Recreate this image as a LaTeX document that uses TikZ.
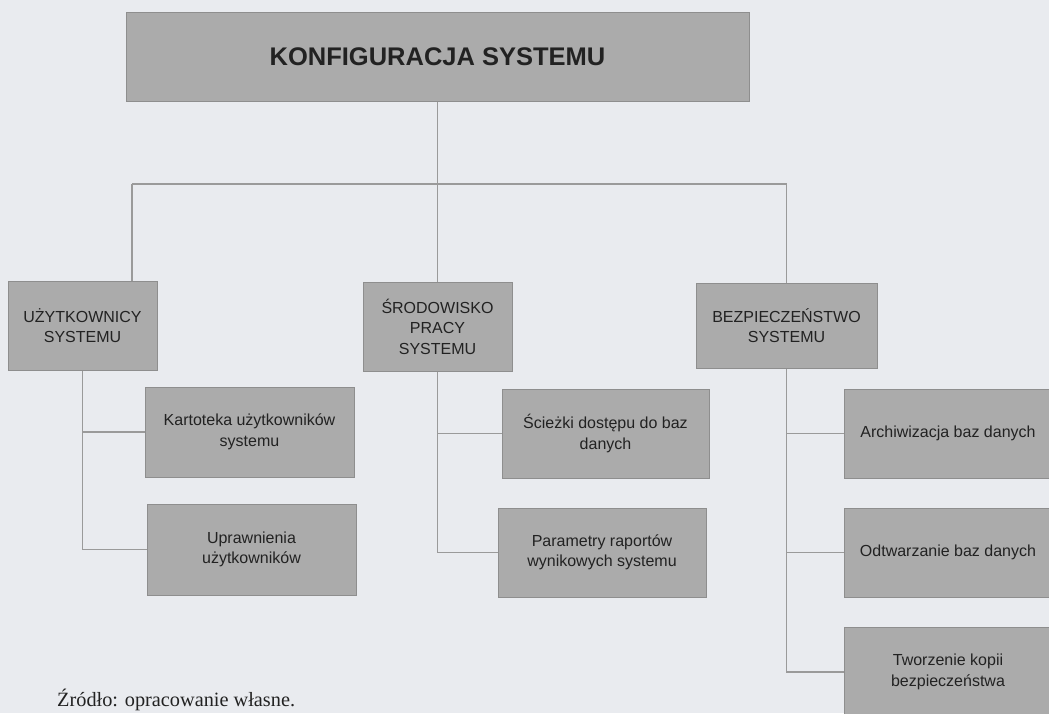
\documentclass[tikz,border=0pt]{standalone}
\usepackage{fontspec}
\setmainfont{Liberation Sans}
\newfontfamily\captionserif{Liberation Serif}
\definecolor{paper}{HTML}{E9EBEF}
\definecolor{boxfill}{HTML}{ABABAB}
\definecolor{boxedge}{HTML}{8E8E8E}
\definecolor{wire}{HTML}{9A9A9A}
\definecolor{ink}{HTML}{222222}
\tikzset{
  orgbox/.style={draw=boxedge, line width=1pt, fill=boxfill, text=ink,
    align=center, inner sep=0pt, anchor=center,
    font=\fontsize{16}{20.5}\selectfont},
  headbox/.style={orgbox, font=\fontsize{25.5}{30}\selectfont\bfseries},
  wireline/.style={draw=wire, line width=1.3pt}
}
\begin{document}
\begin{tikzpicture}[x=1pt,y=-1pt]
  % page and background
  \useasboundingbox (0,0) rectangle (1049,713);
  \clip (0,0) rectangle (1049,713);
  \fill[paper] (0,0) rectangle (1049,713);

  % root
  \node[headbox, minimum width=623pt, minimum height=89pt] (top) at (437.5,56.5) {KONFIGURACJA SYSTEMU};

  % second level
  \node[orgbox, minimum width=149pt, minimum height=89pt] (usr) at (82.5,325.5) {UŻYTKOWNICY\\SYSTEMU};
  \node[orgbox, minimum width=149pt, minimum height=89pt] (env) at (437.5,326.5) {ŚRODOWISKO\\PRACY\\SYSTEMU};
  \node[orgbox, minimum width=181pt, minimum height=85pt] (sec) at (786.5,325.5) {BEZPIECZEŃSTWO\\SYSTEMU};

  % third level
  \node[orgbox, minimum width=209pt, minimum height=90pt] (kart) at (249.5,432) {Kartoteka użytkowników\\systemu};
  \node[orgbox, minimum width=209pt, minimum height=91pt] (upr) at (251.5,549.5) {Uprawnienia\\użytkowników};
  \node[orgbox, minimum width=207pt, minimum height=89pt] (path) at (605.5,433.5) {Ścieżki dostępu do baz\\danych};
  \node[orgbox, minimum width=208pt, minimum height=89pt] (rep) at (602,552.5) {Parametry raportów\\wynikowych systemu};
  \node[orgbox, minimum width=208pt, minimum height=89pt] (arch) at (948,433.5) {Archiwizacja baz danych};
  \node[orgbox, minimum width=208pt, minimum height=89pt] (rest) at (948,552.5) {Odtwarzanie baz danych};
  \node[orgbox, minimum width=208pt, minimum height=90pt] (copy) at (948,672) {Tworzenie kopii\\bezpieczeństwa};

  % root to second level
  \coordinate (jm) at (437.5,184);
  \coordinate (jl) at (132,184);
  \coordinate (jr) at (786.5,184);
  \draw[wireline] (top.south) -- (jm);
  \draw[wireline] (jl) -- (jr);
  \draw[wireline] (jl) -- (jl |- usr.north);
  \draw[wireline] (jm) -- (env.north);
  \draw[wireline] (jr) -- (sec.north);

  % users branch
  \draw[wireline] (usr.south) -- (usr.south |- upr.west) -- (upr.west);
  \draw[wireline] (usr.south |- kart.west) -- (kart.west);

  % environment branch
  \draw[wireline] (env.south) -- (env.south |- rep.west) -- (rep.west);
  \draw[wireline] (env.south |- path.west) -- (path.west);

  % security branch
  \draw[wireline] (sec.south) -- (sec.south |- copy.west) -- (copy.west);
  \draw[wireline] (sec.south |- arch.west) -- (arch.west);
  \draw[wireline] (sec.south |- rest.west) -- (rest.west);

  % source note
  \node[anchor=west, text=ink, inner sep=0pt, font=\captionserif\fontsize{20.3}{24}\selectfont] (src) at (57,700) {Źródło: opracowanie własne.};
\end{tikzpicture}
\end{document}
